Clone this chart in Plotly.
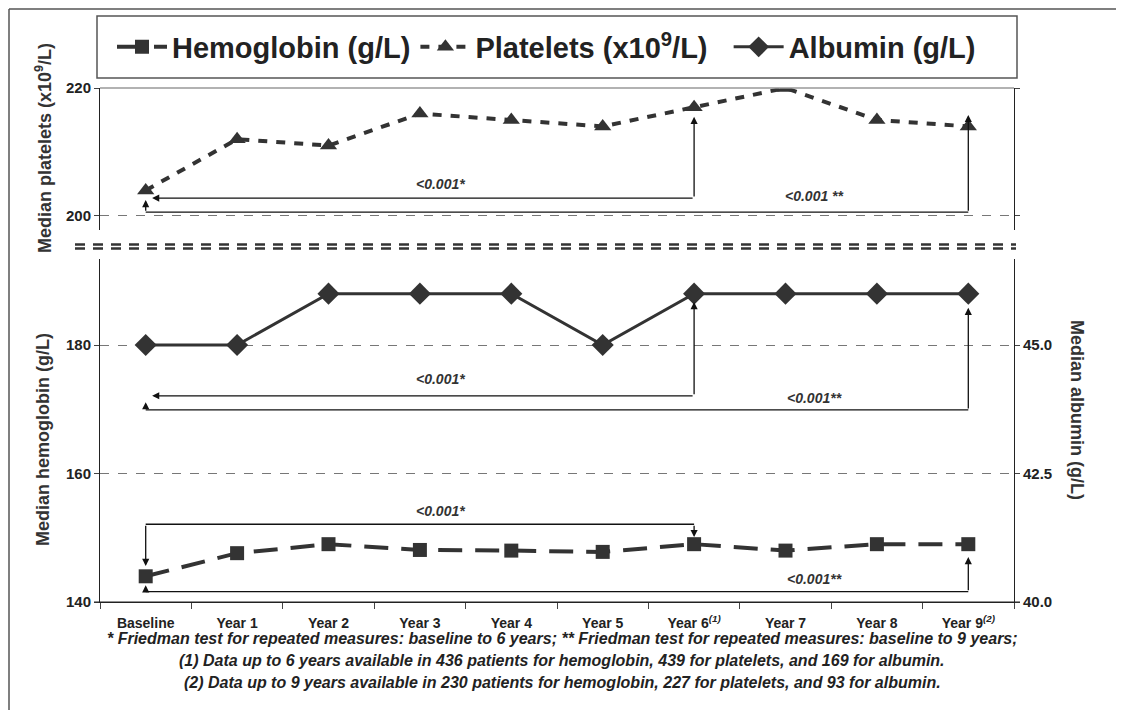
import plotly.graph_objects as go

categories = ["Baseline", "Year 1", "Year 2", "Year 3", "Year 4", "Year 5",
              "Year 6", "Year 7", "Year 8", "Year 9"]
tick_labels = ["Baseline", "Year 1", "Year 2", "Year 3", "Year 4", "Year 5",
               "Year 6<sup><i>(1)</i></sup>", "Year 7", "Year 8", "Year 9<sup><i>(2)</i></sup>"]
hemoglobin = [144, 147.6, 149, 148.1, 148, 147.8, 149, 148, 149, 149]
platelets = [204, 212, 211, 216, 215, 214, 217, 220, 215, 214]
albumin = [45.0, 45.0, 46.0, 46.0, 46.0, 45.0, 46.0, 46.0, 46.0, 46.0]

footnotes = [
    "* Friedman test for repeated measures: baseline to 6 years; ** Friedman test for repeated measures: baseline to 9 years;",
    "(1) Data up to 6 years available in 436 patients for hemoglobin, 439 for platelets, and 169 for albumin.",
    "(2) Data up to 9 years available in 230 patients for hemoglobin, 227 for platelets, and 93 for albumin.",
]

FONT = "Liberation Sans, Arial, sans-serif"
DARK = "#333333"

# page offset (browser body margin) compensation: plot area spans screen x 100..1014, y 88..602
PL, PR, PT, PB = 100, 1014, 88, 602
W, H = PR - PL, PB - PT


def px(xs):
    return (xs - PL) / W


def py(ys):
    return (PB - ys) / H


fig = go.Figure()
fig.add_trace(go.Scatter(
    x=categories, y=hemoglobin, xaxis="x", yaxis="y2", name="<b>Hemoglobin (g/L)</b>",
    mode="lines+markers",
    line=dict(color=DARK, width=4, dash="24px,13px"),
    marker=dict(symbol="square", size=14, color=DARK)))
fig.add_trace(go.Scatter(
    x=categories, y=platelets, xaxis="x", yaxis="y",
    name="<b>Platelets (x10<sup>9</sup>/L)</b>&nbsp;&nbsp;",
    mode="lines+markers",
    line=dict(color=DARK, width=4, dash="9px,9px"),
    marker=dict(symbol="triangle-up", size=15, color=DARK)))
fig.add_trace(go.Scatter(
    x=categories, y=albumin, xaxis="x", yaxis="y3", name="<b>Albumin (g/L)</b>",
    mode="lines+markers",
    line=dict(color=DARK, width=3),
    marker=dict(symbol="diamond", size=17, color=DARK)))

axis_common = dict(showline=True, linecolor="#222222", linewidth=1, ticks="outside",
                   ticklen=5, tickcolor="#444444", zeroline=False,
                   tickfont=dict(family=FONT, size=15, color="#222222"))

fig.update_layout(
    width=1124, height=710, autosize=False,
    margin=dict(l=PL - 8, r=1124 - (PR - 8), t=PT - 8, b=710 - (PB - 8), autoexpand=False),
    paper_bgcolor="white", plot_bgcolor="white",
    font=dict(family=FONT, color=DARK),
    xaxis=dict(type="category", categoryorder="array", categoryarray=categories,
               tickvals=categories, ticktext=["<b>%s</b>" % t for t in tick_labels],
               range=[-0.5, 9.5], domain=[0, 1], anchor="y2", tickson="boundaries",
               showgrid=False, showline=True, linecolor="#222222", ticks="outside",
               ticklen=6, tickcolor="#444444", ticklabelstandoff=8,
               tickfont=dict(family=FONT, size=14, color="#222222")),
    yaxis=dict(domain=[py(230), 1], range=[197.81, 220], tickvals=[200, 220],
               ticktext=["<b>200</b>", "<b>220</b>"], anchor="x", mirror="ticks",
               showgrid=True, gridcolor="#777777", griddash="dash", gridwidth=1,
               **axis_common),
    yaxis2=dict(domain=[0, py(259)], range=[140, 193.39], tickvals=[140, 160, 180],
                ticktext=["<b>140</b>", "<b>160</b>", "<b>180</b>"], anchor="x",
                showgrid=True, gridcolor="#777777", griddash="dash", gridwidth=1,
                **axis_common),
    yaxis3=dict(overlaying="y2", side="right", anchor="x", range=[40, 46.674],
                tickvals=[40, 42.5, 45], ticktext=["<b>40.0</b>", "<b>42.5</b>", "<b>45.0</b>"],
                showgrid=False, **axis_common),
    legend=dict(orientation="h", x=px(112), xanchor="left", y=py(47), yanchor="middle",
                font=dict(family=FONT, size=29, color="#222222"),
                itemwidth=50, bgcolor="rgba(0,0,0,0)", traceorder="normal"),
)

shapes = []
# outer frame (left and top)
shapes.append(dict(type="line", xref="paper", yref="paper", x0=px(9), x1=px(9),
                   y0=py(9), y1=py(720), line=dict(color="#555555", width=1.5)))
shapes.append(dict(type="line", xref="paper", yref="paper", x0=px(9), x1=px(1140),
                   y0=py(9), y1=py(9), line=dict(color="#555555", width=1.5)))
# legend box
shapes.append(dict(type="rect", xref="paper", yref="paper", x0=px(97), x1=px(1017),
                   y0=py(78), y1=py(16), line=dict(color="#555555", width=1.5)))
# top border line at 220
shapes.append(dict(type="line", xref="paper", yref="y domain", x0=0, x1=1, y0=1, y1=1,
                   line=dict(color="#999999", width=1.5)))
# x-axis line slight overhang, as in the original
shapes.append(dict(type="line", xref="paper", yref="paper", x0=px(94), x1=px(1020),
                   y0=0, y1=0, line=dict(color="#222222", width=1)))
# axis break marks
for ys in (244.5, 248.5):
    shapes.append(dict(type="line", xref="paper", yref="paper", x0=px(75), x1=px(1016),
                       y0=py(ys), y1=py(ys),
                       line=dict(color="#333333", width=2.5, dash="10px,8px")))

# bracket plain segments (x in category index units)
seg = [  # (x0, x1, y, yref)
    (0, 9, 200.6, "y"),
    (0, 9, 169.9, "y2"),
    (0, 6, 152.1, "y2"),
    (0, 9, 141.6, "y2"),
]
for x0, x1, yy, yr in seg:
    shapes.append(dict(type="line", xref="x", yref=yr, x0=x0, x1=x1, y0=yy, y1=yy,
                       line=dict(color="#111111", width=1.3)))
fig.update_layout(shapes=shapes)

annotations = []
arrows = [  # (x_head, y_head, x_tail, y_tail, yref)
    (6, 215.5, 6, 202.8, "y"),
    (0.07, 202.8, 6, 202.8, "y"),
    (9, 215.8, 9, 200.6, "y"),
    (0, 202.5, 0, 200.6, "y"),
    (6, 186.7, 6, 172.1, "y2"),
    (0.07, 172.1, 6, 172.1, "y2"),
    (9, 185.8, 9, 169.9, "y2"),
    (0, 171.1, 0, 169.9, "y2"),
    (0, 145.6, 0, 152.1, "y2"),
    (6, 150.1, 6, 152.1, "y2"),
    (9, 147.0, 9, 141.6, "y2"),
    (0, 142.6, 0, 141.6, "y2"),
]
for xh, yh, xt, yt, yr in arrows:
    annotations.append(dict(x=xh, y=yh, ax=xt, ay=yt, xref="x", yref=yr, axref="x", ayref=yr,
                            text="", showarrow=True, arrowhead=2, arrowsize=1.1,
                            arrowwidth=1.3, arrowcolor="#111111", standoff=0, startstandoff=0))

pvals = [  # (x, y, text, yref)
    (3.22, 205.0, "<0.001*", "y"),
    (7.32, 203.1, "<0.001 **", "y"),
    (3.22, 174.7, "<0.001*", "y2"),
    (7.32, 171.75, "<0.001**", "y2"),
    (3.22, 154.2, "<0.001*", "y2"),
    (7.32, 143.6, "<0.001**", "y2"),
]
for xx, yy, t, yr in pvals:
    annotations.append(dict(x=xx, y=yy, xref="x", yref=yr,
                            text="<b><i>%s</i></b>" % t.replace("<", "&lt;"),
                            showarrow=False, font=dict(family=FONT, size=14, color="#333333")))

# axis titles
titles = [  # (x_screen, y_screen, text, angle)
    (43, 148, "<b>Median platelets (x10<sup>9</sup>/L)</b>", -90),
    (43, 440, "<b>Median hemoglobin (g/L)</b>", -90),
    (1077, 410, "<b>Median albumin (g/L)</b>", 90),
]
for xs, ys, t, ang in titles:
    annotations.append(dict(x=px(xs), y=py(ys), xref="paper", yref="paper", textangle=ang,
                            xanchor="center", yanchor="middle", text=t, showarrow=False,
                            font=dict(family=FONT, size=18, color="#333333")))

for t, ys in zip(footnotes, [638, 660, 682]):
    annotations.append(dict(x=px(562), y=py(ys), xref="paper", yref="paper", yanchor="middle",
                            xanchor="center", text="<b><i>%s</i></b>" % t, showarrow=False,
                            font=dict(family=FONT, size=16, color="#222222")))

fig.update_layout(annotations=annotations)

fig.write_html("out.html")
